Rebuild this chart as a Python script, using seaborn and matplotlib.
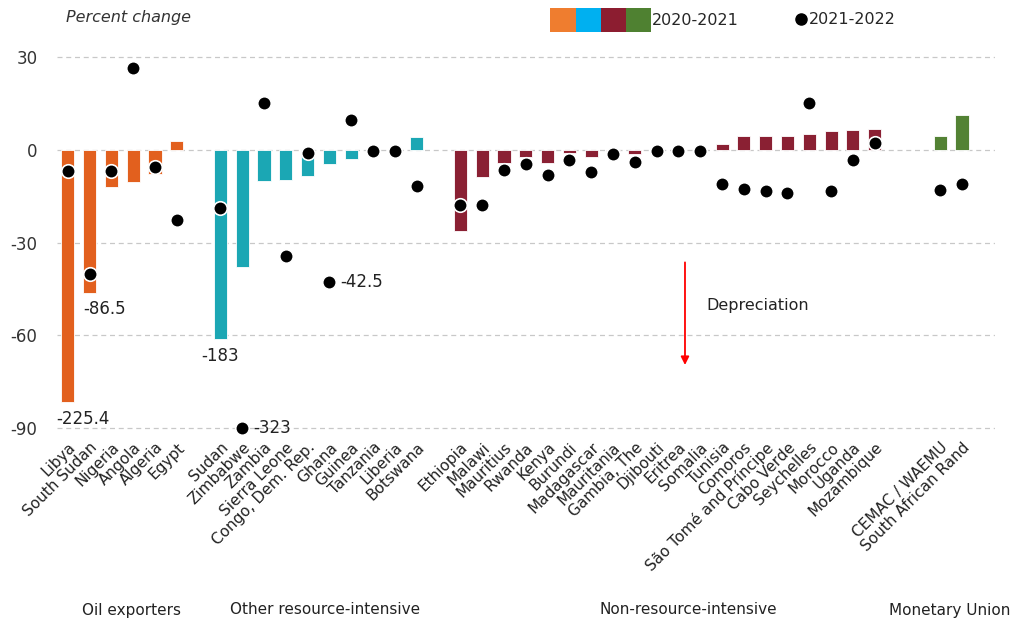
import matplotlib
matplotlib.use('Agg')
import matplotlib.pyplot as plt
import seaborn as sns
import pandas as pd
from matplotlib.patches import Patch
from matplotlib.lines import Line2D
from matplotlib.legend_handler import HandlerTuple

# countries in display order, '' marks an empty slot between groups
countries = ['Libya', 'South Sudan', 'Nigeria', 'Angola', 'Algeria', 'Egypt', '',
             'Sudan', 'Zimbabwe', 'Zambia', 'Sierra Leone', 'Congo, Dem. Rep.', 'Ghana',
             'Guinea', 'Tanzania', 'Liberia', 'Botswana', '',
             'Ethiopia', 'Malawi', 'Mauritius', 'Rwanda', 'Kenya', 'Burundi', 'Madagascar',
             'Mauritania', 'Gambia, The', 'Djibouti', 'Eritrea', 'Somalia', 'Tunisia',
             'Comoros', 'São Tomé and Príncipe', 'Cabo Verde', 'Seychelles', 'Morocco',
             'Uganda', 'Mozambique', '', '',
             'CEMAC / WAEMU', 'South African Rand']
groups = ['oil'] * 6 + [''] + ['res'] * 10 + [''] + ['non'] * 20 + ['', ''] + ['mu'] * 2

# 2020-2021 change (bars, large values drawn truncated)
chg_2021 = [-81.5, -46.2, -12.1, -10.5, -7.9, 3.0, None,
            -61.2, -38.0, -10.2, -9.9, -8.6, -4.7, -2.8, 0.0, 0.0, 4.2, None,
            -26.4, -8.9, -4.1, -2.4, -4.1, -1.1, -2.4, -0.3, -1.3, 0.0, 0.0, 0.0,
            1.8, 4.6, 4.6, 4.6, 5.2, 6.1, 6.5, 6.7, None, None,
            4.6, 11.2]
# 2021-2022 change (dots)
chg_2022 = [-6.8, -40.2, -6.7, 26.6, -5.4, -22.7, None,
            -18.9, -90.0, 15.1, -34.5, -1.1, -42.8, 9.5, -0.3, -0.3, -11.8, None,
            -18.0, -18.0, -6.4, -4.5, -8.0, -3.2, -7.3, -1.3, -3.8, -0.3, -0.3, -0.3,
            -11.2, -12.7, -13.2, -13.8, 15.3, -13.4, -3.2, 2.2, None, None,
            -12.9, -11.0]

# true values for truncated marks: (country, value, kind)
off_scale = [('Libya', '-225.4', 'bar'), ('South Sudan', '-86.5', 'bar'),
             ('Sudan', '-183', 'bar'), ('Zimbabwe', '-323', 'dot'), ('Ghana', '-42.5', 'dot')]

group_names = ['Oil exporters', 'Other resource-intensive', 'Non-resource-intensive', 'Monetary Union']

bar_colors = {'oil': '#E2601E', 'res': '#1BA7B4', 'non': '#8A2033', 'mu': '#538234', '': '#ffffff'}
legend_colors = ['#EF7D2F', '#00B0F0', '#8C1D30', '#4F8131']

df = pd.DataFrame({'pos': range(len(countries)), 'country': countries, 'group': groups,
                   'y21': chg_2021, 'y22': chg_2022})
bars = df.dropna(subset=['y21'])
dots = df.dropna(subset=['y22'])

fig = plt.figure(figsize=(10.15, 6.23), dpi=100)
ax = fig.add_axes([0.056, 0.303, 0.924, 0.645])
sns.set_style('white')

ax.yaxis.grid(True, color='#c8c8c8', ls=(0, (4, 3)), lw=0.9)
ax.set_axisbelow(True)

sns.barplot(data=bars, x='pos', y='y21', hue='group', palette=bar_colors, native_scale=True,
            dodge=False, width=0.6, saturation=1, edgecolor='white', linewidth=0.6,
            legend=False, ax=ax, zorder=2)
sns.scatterplot(data=dots, x='pos', y='y22', color='black', s=95, edgecolor='white',
                linewidth=1.2, legend=False, ax=ax, zorder=3)

pos_of = dict(zip(countries, range(len(countries))))
label_dx = {'Libya': 0.7, 'South Sudan': 0.7, 'Sudan': 0.0}
for c, label, kind in off_scale:
    p = pos_of[c]
    if kind == 'bar':
        yv = df.loc[p, 'y21']
        ax.text(p + label_dx[c], yv - 2.5, label, ha='center', va='top',
                fontsize=12, color='#222222')
    else:
        yv = df.loc[p, 'y22']
        ax.text(p + 0.5, yv, label, ha='left', va='center', fontsize=12, color='#222222')

# depreciation arrow
ax.annotate('', xy=(28.3, -70.5), xytext=(28.3, -35.5),
            arrowprops=dict(arrowstyle='-|>', color='red', lw=1.3, mutation_scale=12))
ax.text(29.3, -50.5, 'Depreciation', fontsize=11.5, color='#222222', va='center')

ax.set_xlim(-0.5, 42.5)
ax.set_ylim(-92, 38)
ax.set_yticks([30, 0, -30, -60, -90])
ax.set_yticklabels(['30', '0', '-30', '-60', '-90'], fontsize=12, color='#333333')
ticks = [i for i, c in enumerate(countries) if c]
ax.set_xticks(ticks)
ax.set_xticklabels([countries[i] for i in ticks], rotation=45, ha='right',
                   rotation_mode='anchor', fontsize=11, color='#222222')
ax.tick_params(axis='both', length=0, pad=4)
ax.tick_params(axis='y', pad=14)
ax.set_xlabel('')
ax.set_ylabel('')
sns.despine(ax=ax, left=True, bottom=True)

fig.text(0.065, 0.972, 'Percent change', fontsize=11.5, style='italic', color='#333333',
         va='center')

# group labels
for name, xc in zip(group_names, [131, 325, 688, 950]):
    fig.text(xc / 1015, 1 - 610 / 623, name, ha='center', va='center', fontsize=11,
             color='#222222')

# legends
patches = tuple(Patch(facecolor=c, edgecolor='none') for c in legend_colors)
fig.legend([patches], ['2020-2021'], handler_map={tuple: HandlerTuple(ndivide=None, pad=0)},
           loc='center left', bbox_to_anchor=(536 / 1015, 1 - 20 / 623), frameon=False,
           handlelength=6.3, handleheight=1.9, handletextpad=0.05, fontsize=11.5)
dot = Line2D([], [], marker='o', color='black', ls='none', markersize=8)
fig.legend([dot], ['2021-2022'], loc='center left',
           bbox_to_anchor=(780 / 1015, 1 - 20 / 623), frameon=False,
           handlelength=0.8, handletextpad=0.1, fontsize=11.5)

fig.savefig('out.png', dpi=100)
